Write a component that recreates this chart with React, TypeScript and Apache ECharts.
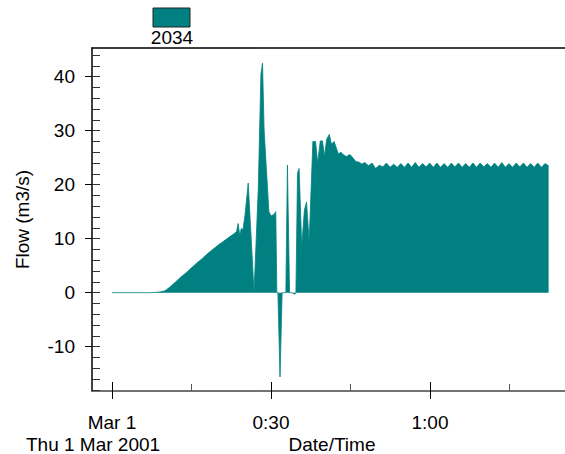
import React, { useEffect, useRef } from "react";
import * as echarts from "echarts";

const seriesName = "2034";
const dateLine = "Thu 1 Mar 2001";
const xAxisTitle = "Date/Time";
const yAxisTitle = "Flow (m3/s)";

// minutes after Mar 1 00:00
const rampTimes = [0, 1, 2, 3, 4, 5, 6, 7, 8, 9, 10, 11, 12, 13, 14, 15, 16, 17, 18, 19, 20, 21, 22, 23];
const rampFlows = [0, 0, 0, 0, 0, 0, 0, 0, 0.05, 0.12, 0.35, 1.1, 2.0, 2.9, 3.7, 4.6, 5.5, 6.3, 7.2, 8.0, 8.8, 9.5, 10.2, 10.9];

const surgeTimes = [23.5, 23.8, 24.1, 24.4, 24.7, 25.1, 25.7, 26.8, 27.6, 28.1, 28.4, 28.7, 29.6, 30.0, 30.6, 30.9, 31.1, 31.3, 31.7, 32.1, 32.8, 33.1, 33.5, 34.0, 34.5, 34.7, 35.0, 35.3, 35.8, 36.3, 36.7, 37.2, 37.9, 38.4, 38.8, 39.3, 39.7, 40.1, 40.5, 41.0, 41.4, 41.9, 42.7, 43.2, 43.6, 44.2, 44.9, 45.5, 46.0, 46.8, 47.1];
const surgeFlows = [11.3, 12.8, 10.6, 11.9, 11.6, 14.4, 20.3, 0.1, 19.3, 40.5, 42.5, 30.1, 15.0, 14.2, 14.5, 15.0, 0, 0, -15.6, 0, 0, 23.6, 0, 0, -0.3, 0, 22.1, 23.0, 8.5, 15.3, 16.8, 9.5, 28.0, 28.0, 24.0, 28.1, 28.1, 25.3, 28.4, 29.3, 27.5, 28.0, 25.7, 26.0, 25.6, 25.2, 25.6, 24.9, 24.3, 24.1, 23.8];

// steady part, sampled every 0.68 min from 47.7 min
const steadyStart = 47.7;
const steadyStep = 0.68;
const steadyFlows = [24.1, 23.5, 24.0, 23.0, 23.6, 23.3, 24.0, 23.2, 23.8, 23.2, 23.9, 23.2, 24.0, 23.2, 24.1, 23.2, 23.9, 23.3, 24.0, 23.2, 24.0, 23.2, 23.9, 23.2, 24.0, 23.3, 24.0, 23.2, 23.9, 23.2, 24.0, 23.2, 24.0, 23.3, 23.9, 23.2, 24.0, 23.2, 24.1, 23.2, 23.9, 23.2, 24.0, 23.3, 24.0, 23.2, 23.9, 23.2, 24.0, 23.2, 23.9, 23.5];

const xMajorTicks = [0, 30, 60];
const xMajorLabels = ["Mar 1", "0:30", "1:00"];
const xMinorTicks = [15, 45, 75];
const yMajorTicks = [-10, 0, 10, 20, 30, 40];
const yMinorTicks = [-18, -16, -14, -12, -10, -8, -6, -4, -2, 0, 2, 4, 6, 8, 10, 12, 14, 16, 18, 20, 22, 24, 26, 28, 30, 32, 34, 36, 38, 40, 42, 44];

const X_MIN = -3.774;
const X_MAX = 86.79;
const Y_MIN = -18.2;
const Y_MAX = 45.3;

const TEAL = "#008080";
const FONT = "'Liberation Sans', Arial, sans-serif";

export default function App() {
  const ref = useRef<HTMLDivElement>(null);

  useEffect(() => {
    if (!ref.current) return;
    const chart = echarts.init(ref.current, undefined, { renderer: "svg" });

    const data: [number, number][] = [];
    rampTimes.forEach((t, i) => data.push([t, rampFlows[i]]));
    surgeTimes.forEach((t, i) => data.push([t, surgeFlows[i]]));
    steadyFlows.forEach((v, i) => data.push([+(steadyStart + i * steadyStep).toFixed(2), v]));

    const baseX = {
      type: "value" as const,
      min: X_MIN,
      max: X_MAX,
      splitLine: { show: false },
    };
    const baseY = {
      type: "value" as const,
      min: Y_MIN,
      max: Y_MAX,
      splitLine: { show: false },
    };

    chart.setOption({
      animation: false,
      backgroundColor: "#fff",
      grid: {
        left: 92,
        top: 48,
        width: 480,
        height: 343,
        containLabel: false,
        outerBoundsMode: "none",
      },
      xAxis: [
        {
          ...baseX,
          position: "bottom",
          axisLine: { show: true, onZero: false, lineStyle: { color: "#444", width: 1.5 } },
          axisTick: {
            show: true,
            inside: false,
            length: 8,
            customValues: xMajorTicks,
            lineStyle: { color: "#000", width: 1 },
          },
          axisLabel: {
            show: true,
            margin: 22,
            customValues: xMajorTicks,
            fontFamily: FONT,
            fontSize: 19,
            color: "#000",
            formatter: (v: number) => {
              const idx = xMajorTicks.indexOf(Math.round(v));
              return idx >= 0 ? xMajorLabels[idx] : "";
            },
          },
        },
        {
          ...baseX,
          position: "bottom",
          axisLine: { show: false, onZero: false },
          axisTick: {
            show: true,
            inside: true,
            length: 9,
            customValues: xMajorTicks,
            lineStyle: { color: "#000", width: 1 },
          },
          axisLabel: { show: false },
        },
        {
          ...baseX,
          position: "bottom",
          axisLine: { show: false, onZero: false },
          axisTick: {
            show: true,
            inside: true,
            length: 7,
            customValues: xMinorTicks,
            lineStyle: { color: "#555", width: 1 },
          },
          axisLabel: { show: false },
        },
        {
          ...baseX,
          position: "top",
          axisLine: { show: true, onZero: false, lineStyle: { color: "#000", width: 1.5 } },
          axisTick: { show: false },
          axisLabel: { show: false },
        },
      ],
      yAxis: [
        {
          ...baseY,
          position: "left",
          name: yAxisTitle,
          nameLocation: "middle",
          nameGap: 60,
          nameRotate: 90,
          nameTextStyle: { fontFamily: FONT, fontSize: 19, color: "#000" },
          axisLine: { show: true, onZero: false, lineStyle: { color: "#000", width: 1.5 } },
          axisTick: {
            show: true,
            inside: false,
            length: 7,
            customValues: yMajorTicks,
            lineStyle: { color: "#000", width: 1 },
          },
          axisLabel: {
            show: true,
            margin: 17,
            customValues: yMajorTicks,
            fontFamily: FONT,
            fontSize: 19,
            color: "#000",
          },
        },
        {
          ...baseY,
          position: "left",
          axisLine: { show: false, onZero: false },
          axisTick: {
            show: true,
            inside: true,
            length: 8,
            customValues: yMinorTicks,
            lineStyle: { color: "#333", width: 1 },
          },
          axisLabel: { show: false },
        },
      ],
      graphic: [
        {
          type: "rect",
          shape: { x: 153, y: 8, width: 37, height: 19 },
          style: { fill: TEAL, stroke: "#222", lineWidth: 1 },
        },
        {
          type: "text",
          x: 172,
          y: 37.5,
          style: {
            text: seriesName,
            fontFamily: FONT,
            fontSize: 19,
            fill: "#000",
            align: "center",
            verticalAlign: "middle",
          },
        },
        {
          type: "text",
          x: 26,
          y: 444,
          style: {
            text: dateLine,
            fontFamily: FONT,
            fontSize: 19,
            fill: "#000",
            align: "left",
            verticalAlign: "middle",
          },
        },
        {
          type: "text",
          x: 332,
          y: 444,
          style: {
            text: xAxisTitle,
            fontFamily: FONT,
            fontSize: 19,
            fill: "#000",
            align: "center",
            verticalAlign: "middle",
          },
        },
      ],
      series: [
        {
          name: seriesName,
          type: "line",
          xAxisIndex: 0,
          yAxisIndex: 0,
          data,
          symbol: "none",
          lineStyle: { color: TEAL, width: 0.8 },
          itemStyle: { color: TEAL },
          areaStyle: { color: TEAL, opacity: 1, origin: 0 },
          clip: true,
        },
      ],
    });

    return () => chart.dispose();
  }, []);

  return (
    <div
      ref={ref}
      style={{ position: "absolute", left: 0, top: 0, width: 565, height: 454, background: "#fff" }}
    />
  );
}
